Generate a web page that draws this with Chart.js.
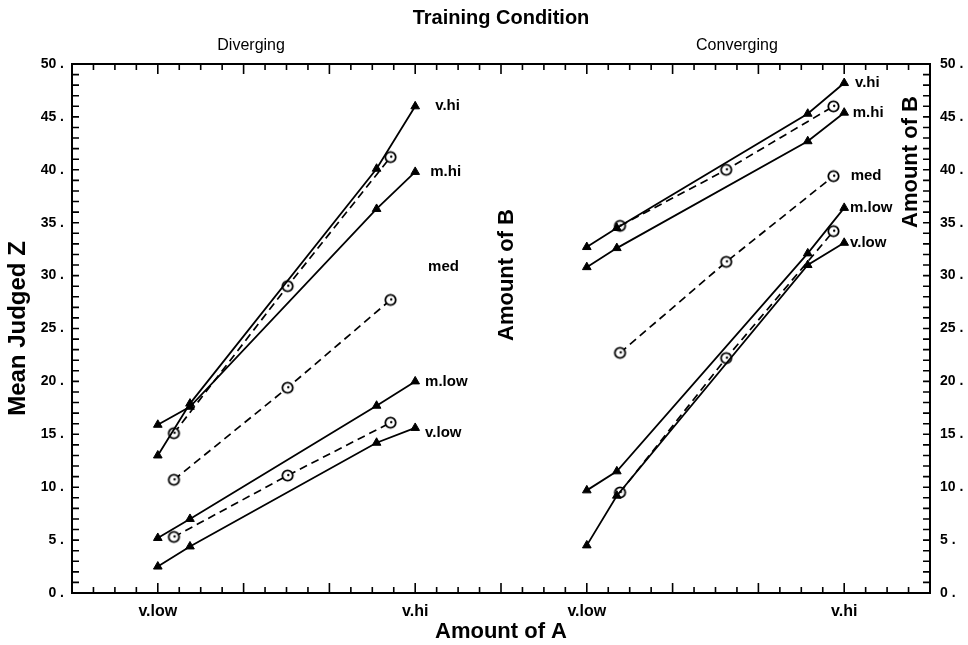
<!DOCTYPE html>
<html>
<head>
<meta charset="utf-8">
<script src="https://cdn.jsdelivr.net/npm/chart.js@4"></script>
<style>
  body { margin: 0; background: #fff; }
  canvas { display: block; }
</style>
</head>
<body>
<canvas id="chart" width="968" height="645"></canvas>
<script>
// x positions (amount of A, in axis units) for the two panels
const xTriDiv = [4, 5.5, 14.2, 16];
const xCircDiv = [4.75, 10.05, 14.85];
const xTriCon = [24, 25.4, 34.3, 36];
const xCircCon = [25.55, 30.5, 35.5];

// Diverging panel
const divVhi = [13.0, 17.9, 40.1, 46.0];
const divMhi = [15.9, 17.6, 36.3, 39.8];
const divMlow = [5.2, 7.0, 17.7, 20.0];
const divVlow = [2.5, 4.4, 14.2, 15.6];
const divCircHi = [15.1, 29.0, 41.2];
const divCircMed = [10.7, 19.4, 27.7];
const divCircLow = [5.3, 11.1, 16.1];

// Converging panel
const conVhi = [32.7, 34.5, 45.3, 48.2];
const conMhi = [30.8, 32.6, 42.7, 45.4];
const conMlow = [9.7, 11.5, 32.1, 36.4];
const conVlow = [4.5, 9.2, 31.0, 33.1];
const conCircHi = [34.7, 40.0, 46.0];
const conCircMed = [22.7, 31.3, 39.4];
const conCircLow = [9.5, 22.2, 34.2];

// tick labels
const xTickPos = [4, 16, 24, 36];
const xTickText = ['v.low', 'v.hi', 'v.low', 'v.hi'];

// curve labels
const curveNames = ['v.hi', 'm.hi', 'med', 'm.low', 'v.low'];
const divLabelX = [16.93, 16.7, 16.6, 16.46, 16.46];
const divLabelY = [46.0, 39.8, 30.8, 20.0, 15.1];
const conLabelX = [36.5, 36.4, 36.3, 36.27, 36.27];
const conLabelY = [48.2, 45.4, 39.4, 36.4, 33.1];

const FONT = "'Liberation Sans', Arial, sans-serif";

// hollow circle marker with a small dot
function makeCircle() {
    const c = document.createElement('canvas');
    c.width = 15; c.height = 15;
    const g = c.getContext('2d');
    g.fillStyle = '#fff';
    g.strokeStyle = '#000';
    g.lineWidth = 1.8;
    g.beginPath(); g.arc(7.5, 7.5, 5.2, 0, Math.PI * 2); g.fill(); g.stroke();
    g.fillStyle = '#000';
    g.beginPath(); g.arc(8.2, 7.0, 1.2, 0, Math.PI * 2); g.fill();
    return c;
}
const circImg = makeCircle();

function pts(xs, ys) {
    return ys.map((y, i) => ({ x: xs[i], y: y }));
}

function triLine(xs, ys) {
    return {
        data: pts(xs, ys),
        borderColor: '#000', borderWidth: 1.8,
        pointStyle: 'triangle', pointRadius: 5,
        pointBackgroundColor: '#000', pointBorderColor: '#000', pointBorderWidth: 1,
        tension: 0
    };
}

function circLine(xs, ys) {
    return {
        data: pts(xs, ys),
        borderColor: '#000', borderWidth: 1.7, borderDash: [8, 5],
        pointStyle: circImg, pointRadius: 6,
        tension: 0
    };
}

const datasets = [
    triLine(xTriDiv, divVhi), triLine(xTriDiv, divMhi),
    triLine(xTriDiv, divMlow), triLine(xTriDiv, divVlow),
    circLine(xCircDiv, divCircHi), circLine(xCircDiv, divCircMed), circLine(xCircDiv, divCircLow),
    triLine(xTriCon, conVhi), triLine(xTriCon, conMhi),
    triLine(xTriCon, conMlow), triLine(xTriCon, conVlow),
    circLine(xCircCon, conCircHi), circLine(xCircCon, conCircMed), circLine(xCircCon, conCircLow)
];

// frame, inward ticks and text annotations
const decorPlugin = {
    id: 'decor',
    afterDraw(chart) {
        const ctx = chart.ctx;
        const a = chart.chartArea;
        const xs = chart.scales.x, ys = chart.scales.y;
        ctx.save();
        ctx.strokeStyle = '#000';
        ctx.lineWidth = 2;
        ctx.strokeRect(a.left, a.top, a.right - a.left, a.bottom - a.top);

        ctx.lineWidth = 1.6;
        ctx.beginPath();
        for (let v = 0; v <= 40; v++) {
            const px = xs.getPixelForValue(v);
            const len = v % 4 === 0 ? 10 : 6;
            ctx.moveTo(px, a.bottom); ctx.lineTo(px, a.bottom - len);
            ctx.moveTo(px, a.top); ctx.lineTo(px, a.top + len);
        }
        for (let v = 0; v <= 50; v++) {
            const py = ys.getPixelForValue(v);
            ctx.moveTo(a.left, py); ctx.lineTo(a.left + 7, py);
            ctx.moveTo(a.right, py); ctx.lineTo(a.right - 7, py);
        }
        ctx.stroke();

        ctx.fillStyle = '#000';
        ctx.textAlign = 'center';
        ctx.textBaseline = 'middle';
        ctx.font = 'bold 20px ' + FONT;
        ctx.fillText('Training Condition', (a.left + a.right) / 2, 18);
        ctx.font = '16px ' + FONT;
        ctx.fillText('Diverging', xs.getPixelForValue(8.35), 46);
        ctx.fillText('Converging', xs.getPixelForValue(31.0), 46);

        ctx.font = 'bold 15px ' + FONT;
        ctx.textAlign = 'left';
        curveNames.forEach((name, i) => {
            ctx.fillText(name, xs.getPixelForValue(divLabelX[i]), ys.getPixelForValue(divLabelY[i]));
            ctx.fillText(name, xs.getPixelForValue(conLabelX[i]), ys.getPixelForValue(conLabelY[i]));
        });

        ctx.font = 'bold 22px ' + FONT;
        ctx.textAlign = 'center';
        ctx.save();
        ctx.translate(507, 275);
        ctx.rotate(-Math.PI / 2);
        ctx.fillText('Amount of B', 0, 0);
        ctx.restore();
        ctx.save();
        ctx.translate(911, 162);
        ctx.rotate(-Math.PI / 2);
        ctx.fillText('Amount of B', 0, 0);
        ctx.restore();
        ctx.restore();
    }
};

const yTick = v => (v % 5 === 0 ? v + ' .' : '');

new Chart(document.getElementById('chart'), {
    type: 'line',
    data: { datasets: datasets },
    options: {
        responsive: false,
        animation: false,
        layout: { padding: { top: 64, left: 0, right: 0, bottom: 0 } },
        plugins: { legend: { display: false }, tooltip: { enabled: false } },
        scales: {
            x: {
                type: 'linear', min: 0, max: 40,
                grid: { display: false }, border: { display: false },
                ticks: {
                    stepSize: 1, autoSkip: false, maxRotation: 0, padding: 1,
                    color: '#000', font: { family: FONT, size: 16, weight: 'bold' },
                    callback: v => { const i = xTickPos.indexOf(v); return i >= 0 ? xTickText[i] : ''; }
                },
                title: { display: true, text: 'Amount of A', color: '#000', padding: { top: 0, bottom: 0 },
                    font: { family: FONT, size: 22, weight: 'bold' } },
                afterFit: s => { s.height = 52; }
            },
            y: {
                min: 0, max: 50,
                grid: { display: false }, border: { display: false },
                ticks: {
                    stepSize: 1, autoSkip: false, padding: 0,
                    color: '#000', font: { family: FONT, size: 14, weight: 'bold' },
                    callback: yTick
                },
                title: { display: true, text: 'Mean Judged Z', color: '#000', padding: { top: 4, bottom: 0 },
                    font: { family: FONT, size: 24, weight: 'bold' } },
                afterFit: s => { s.width = 72; }
            },
            y2: {
                position: 'right', min: 0, max: 50,
                grid: { display: false }, border: { display: false },
                ticks: {
                    stepSize: 1, autoSkip: false, padding: 2,
                    color: '#000', font: { family: FONT, size: 14, weight: 'bold' },
                    callback: yTick
                },
                afterFit: s => { s.width = 38; }
            }
        }
    },
    plugins: [decorPlugin]
});
</script>
</body>
</html>
